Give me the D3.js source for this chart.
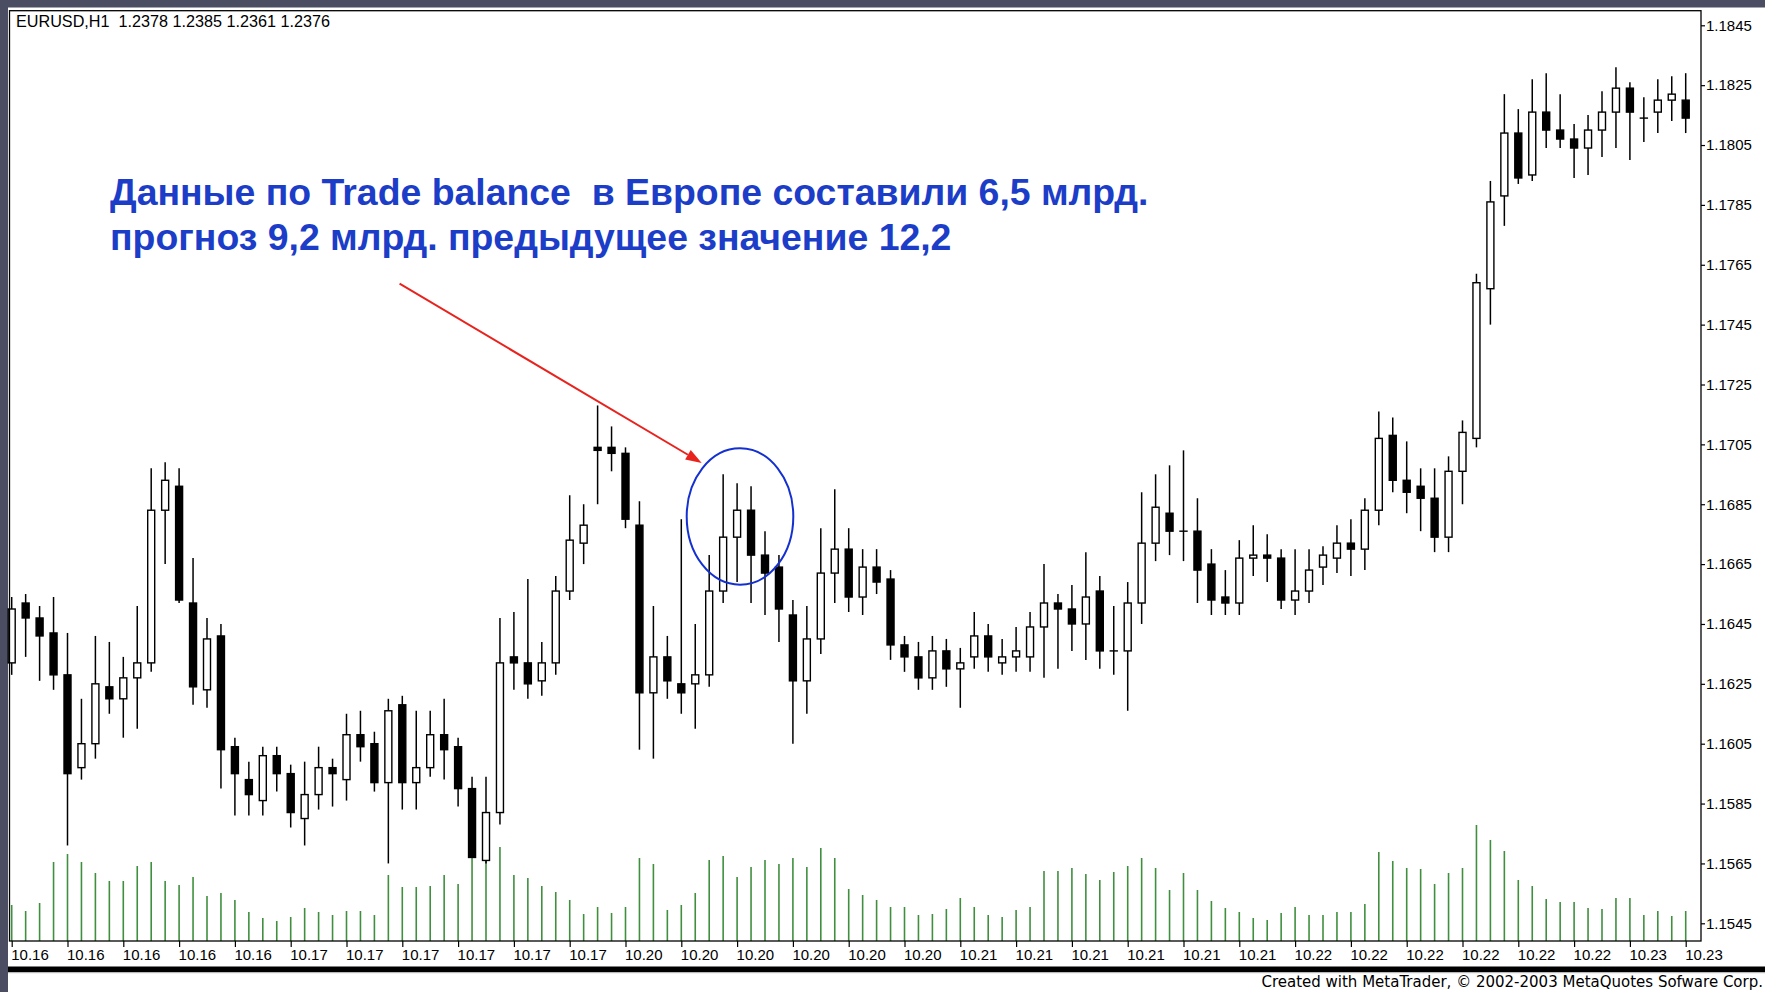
<!DOCTYPE html>
<html><head><meta charset="utf-8">
<script src="https://cdn.jsdelivr.net/npm/d3@7"></script>
<style>
html,body{margin:0;padding:0;background:#fff;}
svg{display:block;}
text{white-space:pre;}
</style></head>
<body>
<svg id="c" width="1765" height="992"></svg>
<script>
// ---- data (EURUSD, H1) ----
const dateLabels = ["10.16","10.16","10.16","10.16","10.16",
  "10.17","10.17","10.17","10.17","10.17","10.17",
  "10.20","10.20","10.20","10.20","10.20","10.20",
  "10.21","10.21","10.21","10.21","10.21","10.21",
  "10.22","10.22","10.22","10.22","10.22","10.22",
  "10.23","10.23"];
const priceTicks = [1.1545,1.1565,1.1585,1.1605,1.1625,1.1645,1.1665,1.1685,1.1705,1.1725,1.1745,1.1765,1.1785,1.1805,1.1825,1.1845];

const open = [1.1632,1.1652,1.1647,1.1642,1.1628,1.1597,1.1605,1.1624,1.1620,1.1627,
1.1632,1.1683,1.1691,1.1652,1.1623,1.1641,1.1604,1.1593,1.1586,1.1601,
1.1595,1.1580,1.1588,1.1597,1.1593,1.1608,1.1605,1.1592,1.1618,1.1592,
1.1597,1.1608,1.1604,1.1590,1.1566,1.1582,1.1634,1.1632,1.1626,1.1632,
1.1656,1.1672,1.1704,1.1704,1.1702,1.1678,1.1622,1.1634,1.1625,1.1625,
1.1628,1.1656,1.1674,1.1683,1.1668,1.1664,1.1648,1.1626,1.1640,1.1662,
1.1670,1.1654,1.1664,1.1660,1.1638,1.1634,1.1627,1.1636,1.1630,1.1634,
1.1641,1.1632,1.1634,1.1634,1.1644,1.1652,1.1650,1.1645,1.1656,1.1636,
1.1636,1.1652,1.1672,1.1682,1.1676,1.1676,1.1665,1.1654,1.1652,1.1667,
1.1668,1.1667,1.1653,1.1656,1.1664,1.1667,1.1672,1.1670,1.1683,1.1708,
1.1693,1.1691,1.1687,1.1674,1.1696,1.1707,1.1757,1.1788,1.1809,1.1795,
1.1816,1.1810,1.1807,1.1804,1.1810,1.1816,1.1824,1.1814,1.1816,1.1820,
1.1820];
const high = [1.1654,1.1655,1.1651,1.1654,1.1642,1.1620,1.1641,1.1639,1.1634,1.1651,
1.1697,1.1699,1.1697,1.1667,1.1647,1.1645,1.1607,1.1599,1.1604,1.1604,
1.1598,1.1599,1.1604,1.1600,1.1615,1.1616,1.1609,1.1620,1.1621,1.1616,
1.1616,1.1620,1.1607,1.1594,1.1594,1.1647,1.1649,1.1660,1.1639,1.1661,
1.1688,1.1685,1.1718,1.1711,1.1704,1.1686,1.1651,1.1641,1.1680,1.1645,
1.1668,1.1695,1.1692,1.1691,1.1676,1.1668,1.1653,1.1651,1.1677,1.1690,
1.1677,1.1670,1.1670,1.1663,1.1641,1.1639,1.1641,1.1640,1.1637,1.1649,
1.1645,1.1640,1.1644,1.1649,1.1665,1.1655,1.1658,1.1669,1.1661,1.1651,
1.1659,1.1689,1.1695,1.1698,1.1703,1.1687,1.1670,1.1663,1.1673,1.1678,
1.1675,1.1670,1.1670,1.1670,1.1671,1.1678,1.1680,1.1687,1.1716,1.1714,
1.1706,1.1697,1.1697,1.1701,1.1713,1.1762,1.1793,1.1822,1.1817,1.1827,
1.1829,1.1822,1.1812,1.1815,1.1823,1.1831,1.1826,1.1821,1.1827,1.1828,
1.1829];
const low = [1.1628,1.1634,1.1626,1.1623,1.1571,1.1593,1.1600,1.1615,1.1607,1.1610,
1.1629,1.1665,1.1652,1.1618,1.1617,1.1590,1.1581,1.1581,1.1581,1.1589,
1.1577,1.1571,1.1583,1.1584,1.1586,1.1599,1.1589,1.1565,1.1583,1.1583,
1.1594,1.1593,1.1584,1.1567,1.1565,1.1578,1.1623,1.1620,1.1621,1.1628,
1.1653,1.1665,1.1685,1.1696,1.1677,1.1603,1.1600,1.1620,1.1615,1.1610,
1.1624,1.1652,1.1659,1.1652,1.1648,1.1639,1.1605,1.1615,1.1635,1.1652,
1.1649,1.1648,1.1655,1.1633,1.1629,1.1623,1.1623,1.1624,1.1617,1.1630,
1.1629,1.1628,1.1629,1.1629,1.1627,1.1630,1.1636,1.1633,1.1630,1.1628,
1.1616,1.1645,1.1666,1.1668,1.1666,1.1652,1.1648,1.1648,1.1648,1.1661,
1.1659,1.1650,1.1648,1.1652,1.1658,1.1662,1.1661,1.1663,1.1678,1.1689,
1.1682,1.1676,1.1669,1.1669,1.1685,1.1704,1.1745,1.1778,1.1792,1.1793,
1.1804,1.1804,1.1794,1.1795,1.1801,1.1804,1.1800,1.1806,1.1809,1.1813,
1.1809];
const close = [1.1650,1.1647,1.1641,1.1628,1.1595,1.1605,1.1625,1.1620,1.1627,1.1632,
1.1683,1.1693,1.1653,1.1624,1.1640,1.1603,1.1595,1.1588,1.1601,1.1595,
1.1582,1.1588,1.1597,1.1595,1.1608,1.1604,1.1592,1.1616,1.1592,1.1597,
1.1608,1.1603,1.1590,1.1567,1.1582,1.1632,1.1632,1.1625,1.1632,1.1656,
1.1673,1.1678,1.1703,1.1702,1.1680,1.1622,1.1634,1.1626,1.1622,1.1628,
1.1656,1.1674,1.1683,1.1668,1.1662,1.1650,1.1626,1.1640,1.1662,1.1670,
1.1654,1.1664,1.1659,1.1638,1.1634,1.1627,1.1636,1.1630,1.1632,1.1641,
1.1634,1.1634,1.1636,1.1644,1.1652,1.1650,1.1645,1.1654,1.1636,1.1636,
1.1652,1.1672,1.1684,1.1676,1.1676,1.1663,1.1653,1.1652,1.1667,1.1668,
1.1667,1.1653,1.1656,1.1663,1.1668,1.1672,1.1670,1.1683,1.1707,1.1693,
1.1689,1.1687,1.1674,1.1696,1.1709,1.1759,1.1786,1.1809,1.1794,1.1816,
1.1810,1.1807,1.1804,1.1810,1.1816,1.1824,1.1816,1.1814,1.1820,1.1822,
1.1814];
const volume = [360,300,380,790,870,790,680,600,600,750,
790,600,560,640,450,480,410,290,230,200,
240,330,290,260,300,300,260,660,540,540,
550,660,570,890,1080,940,660,630,550,490,
410,270,340,280,340,830,770,310,360,480,
810,850,640,740,810,770,830,740,930,830,
520,460,410,340,340,260,270,320,430,340,
260,240,310,340,700,700,730,670,610,690,
750,830,730,510,680,510,400,330,290,230,
210,280,340,260,260,290,290,370,890,800,
730,720,570,680,730,1160,1010,900,610,550,
420,390,390,330,320,430,430,260,300,250,
300];

const headerText = "EURUSD,H1  1.2378 1.2385 1.2361 1.2376";
const noteLines = ["Данные по Trade balance  в Европе составили 6,5 млрд.",
                   "прогноз 9,2 млрд. предыдущее значение 12,2"];
const creditText = "Created with MetaTrader, \u00A9 2002-2003 MetaQuotes Sofware Corp.";

// ---- layout ----
const W = 1765, H = 992;
const plotL = 9.5, plotR = 1701, plotT = 10.7, plotB = 941;
const svg = d3.select("#c");
const n = open.length;
const idx = d3.range(n);

const x = d3.scaleLinear().domain([0, n - 1]).range([11.7, 1685.7]);
const y = d3.scaleLinear().domain([1.1545, 1.1845]).range([923.3, 25.3]);
const yv = d3.scaleLinear().domain([0, 1000]).range([plotB, plotB - 100]);

// frame background
svg.append("rect").attr("x",0).attr("y",0).attr("width",W).attr("height",H).attr("fill","#fff");
svg.append("rect").attr("x",0).attr("y",0).attr("width",W).attr("height",7.5).attr("fill","#4b4e62");
svg.append("rect").attr("x",0).attr("y",0).attr("width",8).attr("height",H).attr("fill","#4b4e62");

// volumes
svg.append("g").selectAll("line").data(idx).join("line")
  .attr("x1", i => x(i)).attr("x2", i => x(i))
  .attr("y1", plotB).attr("y2", i => yv(volume[i]))
  .attr("stroke", "#3f8f3f").attr("stroke-width", 1.6);

// candles
const cg = svg.append("g");
cg.selectAll("line").data(idx).join("line")
  .attr("x1", i => x(i)).attr("x2", i => x(i))
  .attr("y1", i => y(high[i])).attr("y2", i => y(low[i]))
  .attr("stroke", "#000").attr("stroke-width", 1.5);
const bw = 7;
cg.selectAll("rect").data(idx).join("rect")
  .attr("x", i => x(i) - bw / 2)
  .attr("width", bw)
  .attr("y", i => y(Math.max(open[i], close[i])))
  .attr("height", i => Math.max(0.01, Math.abs(y(open[i]) - y(close[i]))))
  .attr("fill", i => close[i] >= open[i] ? "#fff" : "#000")
  .attr("stroke", "#000").attr("stroke-width", 1.4);

// plot border
svg.append("rect").attr("x", plotL).attr("y", plotT)
  .attr("width", plotR - plotL).attr("height", plotB - plotT)
  .attr("fill", "none").attr("stroke", "#000").attr("stroke-width", 1.3);

// price axis
const ya = svg.append("g").attr("transform", `translate(${plotR},0)`)
  .call(d3.axisRight(y).tickValues(priceTicks).tickFormat(d3.format(".4f")).tickSize(4).tickSizeOuter(0).tickPadding(1));
ya.select(".domain").remove();
ya.selectAll("line").attr("stroke", "#000").attr("stroke-width", 1.2);
ya.selectAll("text").attr("fill", "#000").attr("font-family", "Liberation Sans, Arial, sans-serif").attr("font-size", 15);

// time axis
const tickIdx = dateLabels.map((d, k) => k * 4);
const xa = svg.append("g").attr("transform", `translate(0,${plotB})`)
  .call(d3.axisBottom(x).tickValues(tickIdx).tickFormat((d, k) => dateLabels[k]).tickSize(6).tickSizeOuter(0));
xa.select(".domain").remove();
xa.selectAll("line").attr("stroke", "#000").attr("stroke-width", 1.2);
xa.selectAll("text").attr("fill", "#000").attr("font-family", "Liberation Sans, Arial, sans-serif").attr("font-size", 15)
  .attr("text-anchor", "start").attr("x", -1).attr("y", 8).attr("dy", "0.71em");

// header
svg.append("text").attr("x", 16).attr("y", 27.3).text(headerText)
  .attr("font-family", "Liberation Sans, Arial, sans-serif").attr("font-size", 16.2).attr("fill", "#000");

// bottom bars & credit
svg.append("rect").attr("x", 8).attr("y", 966.5).attr("width", W - 8).attr("height", 5.5).attr("fill", "#000");
svg.append("rect").attr("x", 8).attr("y", 972).attr("width", W - 8).attr("height", 1.2).attr("fill", "#b8b8b8");
svg.append("text").attr("x", 1763).attr("y", 987).attr("text-anchor", "end").text(creditText)
  .attr("font-family", "DejaVu Sans, Verdana, sans-serif").attr("font-size", 15).attr("fill", "#000");

// annotation
const note = svg.append("g").attr("font-family", "Liberation Sans, Arial, sans-serif")
  .attr("font-weight", "bold").attr("font-size", 37.4).attr("fill", "#1c3dc8");
noteLines.forEach((t, k) => note.append("text").attr("x", 110).attr("y", 205 + k * 45).text(t));

// arrow
const ax1 = 399.6, ay1 = 283.7, ax2 = 701.7, ay2 = 462.9;
const ang = Math.atan2(ay2 - ay1, ax2 - ax1), hl = 16, hw = 5.5;
const bx = ax2 - hl * Math.cos(ang), by = ay2 - hl * Math.sin(ang);
svg.append("line").attr("x1", ax1).attr("y1", ay1).attr("x2", bx).attr("y2", by)
  .attr("stroke", "#e8231e").attr("stroke-width", 2);
svg.append("path").attr("d", `M${ax2},${ay2}L${bx - hw * Math.sin(ang)},${by + hw * Math.cos(ang)}L${bx + hw * Math.sin(ang)},${by - hw * Math.cos(ang)}Z`)
  .attr("fill", "#e8231e");

// ellipse
svg.append("ellipse").attr("cx", 740).attr("cy", 516.5).attr("rx", 53.3).attr("ry", 68.2)
  .attr("fill", "none").attr("stroke", "#1430d0").attr("stroke-width", 2);
</script>
</body></html>
